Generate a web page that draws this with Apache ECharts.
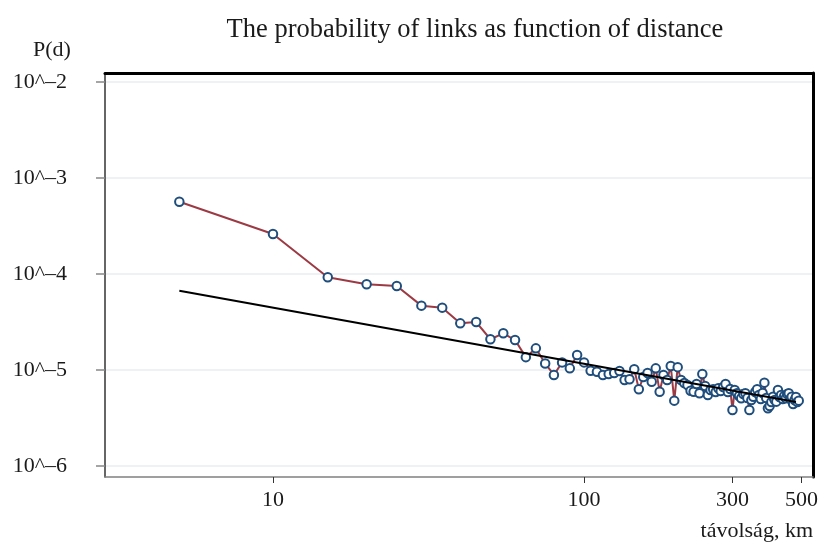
<!DOCTYPE html>
<html>
<head>
<meta charset="utf-8">
<script src="https://cdn.jsdelivr.net/npm/echarts@6/dist/echarts.min.js"></script>
<style>
html,body{margin:0;padding:0;background:#fff;}
#chart{width:822px;height:548px;}
</style>
</head>
<body>
<div id="chart"></div>
<script>
// distance bins (km)
var distance = [5,10,15,20,25,30,35,40,45,50,55,60,65,70,75,80,85,90,95,100,
  105,110,115,120,125,130,135,140,145,150,155,160,165,170,175,180,185,190,195,200,
  205,210,215,220,225,230,235,240,245,250,255,260,265,270,275,280,285,290,295,300,
  305,310,315,320,325,330,335,340,345,350,355,360,365,370,375,380,385,390,395,400,
  405,410,415,420,425,430,435,440,445,450,455,460,465,470,475,480,485,490];
// probability of links P(d)
var probability = [5.66e-4,2.61e-4,9.25e-5,7.81e-5,7.50e-5,4.68e-5,4.46e-5,3.06e-5,3.16e-5,2.09e-5,
  2.41e-5,2.05e-5,1.36e-5,1.68e-5,1.17e-5,8.87e-6,1.20e-5,1.04e-5,1.43e-5,1.20e-5,
  9.83e-6,9.60e-6,8.87e-6,9.08e-6,9.31e-6,9.77e-6,7.87e-6,8.00e-6,1.02e-5,6.29e-6,
  8.45e-6,9.31e-6,7.55e-6,1.04e-5,5.94e-6,8.87e-6,7.87e-6,1.10e-5,4.79e-6,1.07e-5,
  7.87e-6,7.32e-6,6.98e-6,6.08e-6,5.94e-6,7.15e-6,5.72e-6,9.08e-6,6.81e-6,5.49e-6,
  6.19e-6,6.29e-6,5.90e-6,6.45e-6,6.04e-6,6.65e-6,7.15e-6,5.90e-6,6.34e-6,3.83e-6,
  6.19e-6,5.72e-6,5.36e-6,5.07e-6,5.62e-6,5.72e-6,5.11e-6,3.83e-6,4.87e-6,5.27e-6,
  5.90e-6,6.29e-6,5.49e-6,4.99e-6,5.76e-6,7.38e-6,5.11e-6,3.99e-6,4.22e-6,4.64e-6,
  5.27e-6,4.87e-6,4.68e-6,6.19e-6,5.23e-6,5.49e-6,4.99e-6,5.36e-6,5.07e-6,5.62e-6,
  5.72e-6,4.99e-6,5.27e-6,4.43e-6,4.87e-6,5.23e-6,4.64e-6,4.79e-6];
// fitted power-law line (endpoints)
var fitDistance = [5, 480];
var fitProbability = [6.70e-5, 4.64e-6];
// tick labels
var xTicks = [10, 100, 300, 500];
var yTicks = [-6, -5, -4, -3, -2];

var L = Math.log10;
var mainData = distance.map(function(d, i){ return [L(d), L(probability[i])]; });
var fitData = fitDistance.map(function(d, i){ return [L(d), L(fitProbability[i])]; });

var FONT = 'Liberation Serif';
var xMin = 0.460, xMax = 2.736, yMin = -6.115, yMax = -1.906;

var chart = echarts.init(document.getElementById('chart'), null, {renderer:'canvas'});
chart.setOption({
  backgroundColor: '#fff',
  animation: false,
  title: [
    {text: 'The probability of links as function of distance', left: 470, top: 12, textAlign: 'center',
     textStyle: {fontFamily: FONT, fontSize: 26.5, fontWeight: 'normal', color: '#1a1a1a'}},
    {text: 'P(d)', left: 47, top: 34, textAlign: 'center',
     textStyle: {fontFamily: FONT, fontSize: 22, fontWeight: 'normal', color: '#1a1a1a'}},
    {text: 'távolság, km', right: 4, top: 515,
     textStyle: {fontFamily: FONT, fontSize: 22, fontWeight: 'normal', color: '#1a1a1a'}}
  ],
  grid: {left: 105, right: 9, top: 73, bottom: 71, containLabel: false, outerBoundsMode: 'none'},
  xAxis: [{
    type: 'value', min: xMin, max: xMax,
    axisLine: {show: true, onZero: false, lineStyle: {color: '#808080', width: 1.5}},
    axisTick: {show: true, length: 6, customValues: xTicks.map(L), lineStyle: {color: '#333', width: 1}},
    axisLabel: {customValues: xTicks.map(L), margin: 12, fontFamily: FONT, fontSize: 22, color: '#1a1a1a',
      formatter: function(v){ return String(Math.round(Math.pow(10, v))); }},
    splitLine: {show: false}
  },{
    type: 'value', position: 'top', min: xMin, max: xMax,
    axisLine: {show: true, onZero: false, lineStyle: {color: '#000', width: 3}},
    axisTick: {show: false}, axisLabel: {show: false}, splitLine: {show: false}
  }],
  yAxis: [{
    type: 'value', min: yMin, max: yMax,
    axisLine: {show: true, onZero: false, lineStyle: {color: '#333', width: 1.5}},
    axisTick: {show: true, length: 9, customValues: yTicks, lineStyle: {color: '#888', width: 1.5}},
    axisLabel: {customValues: yTicks, margin: 38, fontFamily: FONT, fontSize: 22, color: '#1a1a1a',
      formatter: function(v){ return '10^\u2013' + Math.round(-v); }},
    splitLine: {show: true, lineStyle: {color: '#e8eef1', width: 1.5}}
  },{
    type: 'value', position: 'right', min: yMin, max: yMax,
    axisLine: {show: true, onZero: false, lineStyle: {color: '#000', width: 3}},
    axisTick: {show: false}, axisLabel: {show: false}, splitLine: {show: false}
  }],
  series: [{
    type: 'line', data: mainData, xAxisIndex: 0, yAxisIndex: 0,
    symbol: 'emptyCircle', symbolSize: 8.5, showAllSymbol: true,
    lineStyle: {color: '#9c3a44', width: 2},
    itemStyle: {color: '#1f4e7d', borderColor: '#1f4e7d', borderWidth: 2},
    z: 3
  },{
    type: 'line', data: fitData, xAxisIndex: 0, yAxisIndex: 0,
    symbol: 'none', lineStyle: {color: '#000', width: 2}, z: 4
  }]
});
</script>
</body>
</html>
